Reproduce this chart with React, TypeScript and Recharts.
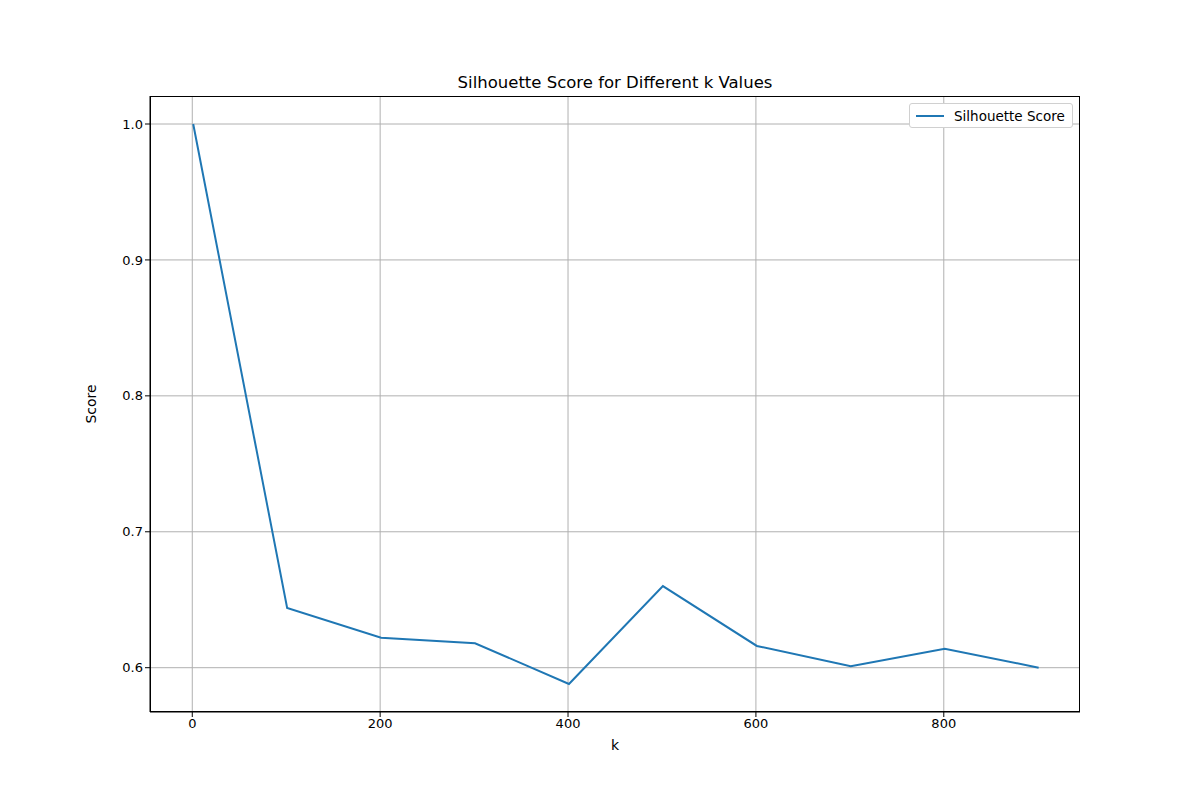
import { CartesianGrid, Line, LineChart, XAxis, YAxis } from "recharts"

const kValues = [1, 101, 201, 301, 401, 501, 601, 701, 801, 901]
const scores = [1.0, 0.644, 0.622, 0.618, 0.588, 0.66, 0.616, 0.601, 0.614, 0.6]
const xTicks = [0, 200, 400, 600, 800]
const yTicks = [0.6, 0.7, 0.8, 0.9, 1.0]

const data = kValues.map((k, i) => ({ k, score: scores[i] }))

const font = "DejaVu Sans, sans-serif"
const tickStyle = { fill: "#000", fontSize: 13, fontFamily: font }

function LegendBox() {
  return (
    <div
      style={{
        position: "absolute",
        left: 909,
        top: 103,
        width: 164,
        height: 25,
        border: "1px solid #d0d0d0",
        borderRadius: 3,
        background: "#fff",
        boxSizing: "border-box",
        display: "flex",
        alignItems: "center",
        fontFamily: font,
        fontSize: 13.5,
      }}
    >
      <span style={{ display: "inline-block", width: 28, height: 2, background: "#1f77b4", marginLeft: 6, marginRight: 10 }} />
      Silhouette Score
    </div>
  )
}

export default function App() {
  return (
    <div style={{ position: "absolute", left: 0, top: 0, width: 1200, height: 800, background: "#fff" }}>
      <LineChart width={1200} height={800} data={data} margin={{ top: 96, right: 120, left: 0, bottom: 0 }}>
        <CartesianGrid stroke="#b0b0b0" strokeWidth={1} verticalValues={xTicks} horizontalValues={yTicks} />
        <XAxis
          dataKey="k"
          type="number"
          domain={[-45, 945]}
          ticks={xTicks}
          height={88}
          stroke="#000"
          tickSize={5}
          tick={tickStyle}
          label={{ value: "k", position: "insideTop", offset: 28, style: { fill: "#000", fontSize: 14, fontFamily: font } }}
        />
        <YAxis
          type="number"
          domain={[0.5674, 1.0206]}
          ticks={yTicks}
          width={150}
          stroke="#000"
          tickSize={5}
          tick={tickStyle}
          tickFormatter={(v) => v.toFixed(1)}
          label={{ value: "Score", angle: -90, position: "insideLeft", offset: 91, style: { fill: "#000", fontSize: 14, fontFamily: font, textAnchor: "middle" } }}
        />
        <Line type="linear" dataKey="score" stroke="#1f77b4" strokeWidth={2} dot={false} isAnimationActive={false} />
        <text x={615} y={88} textAnchor="middle" style={{ fontFamily: font, fontSize: 16.5, fill: "#000" }}>
          Silhouette Score for Different k Values
        </text>
      </LineChart>
      <div
        style={{
          position: "absolute",
          left: 150,
          top: 96,
          width: 930,
          height: 616,
          border: "1px solid #000",
          boxSizing: "border-box",
          pointerEvents: "none",
        }}
      />
      <LegendBox />
    </div>
  )
}
